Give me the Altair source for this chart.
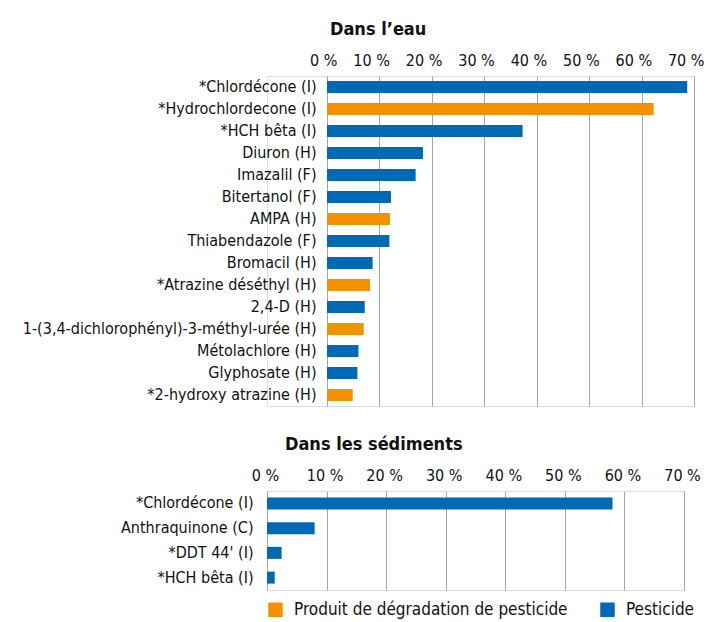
import altair as alt
import pandas as pd

FONT = "'DejaVu Sans Condensed', 'Liberation Sans Narrow', 'Roboto', sans-serif"
ORANGE = "#f39200"
BLUE = "#0069b4"
GRID = "#a6a6a6"
TXT = "#111111"

DEG = "Produit de dégradation de pesticide"
PEST = "Pesticide"

water_names = [
    "*Chlordécone (I)",
    "*Hydrochlordecone (I)",
    "*HCH bêta (I)",
    "Diuron (H)",
    "Imazalil (F)",
    "Bitertanol (F)",
    "AMPA (H)",
    "Thiabendazole (F)",
    "Bromacil (H)",
    "*Atrazine déséthyl (H)",
    "2,4-D (H)",
    "1-(3,4-dichlorophényl)-3-méthyl-urée (H)",
    "Métolachlore (H)",
    "Glyphosate (H)",
    "*2-hydroxy atrazine (H)",
]
water_values = [68.7, 62.3, 37.3, 18.3, 16.9, 12.2, 12.0, 11.9, 8.7, 8.2, 7.2, 7.0, 6.0, 5.8, 4.9]
water_types = [PEST, DEG, PEST, PEST, PEST, PEST, DEG, PEST, PEST, DEG, PEST, DEG, PEST, PEST, DEG]

sed_names = ["*Chlordécone (I)", "Anthraquinone (C)", "*DDT 44' (I)", "*HCH bêta (I)"]
sed_values = [58.0, 8.0, 2.45, 1.3]
sed_types = [PEST, PEST, PEST, PEST]

tick_values = [0, 10, 20, 30, 40, 50, 60, 70]

df_w = pd.DataFrame({"name": water_names, "value": water_values, "type": water_types})
df_s = pd.DataFrame({"name": sed_names, "value": sed_values, "type": sed_types})

color_scale = alt.Scale(domain=[DEG, PEST], range=[ORANGE, BLUE])

SHIFT = 60          # top panel plot starts this far right of the shared origin
TOP_W = 367
BOT_W = 417


def x_axis(**kw):
    return alt.Axis(
        orient="top", values=tick_values, labelExpr="datum.value + ' %'",
        domain=False, ticks=False, grid=True, gridColor=GRID, gridOpacity=1,
        title=None, labelFontSize=16, labelPadding=8, labelColor=TXT,
        labelFont=FONT, labelOverlap=False, labelFlush=False, **kw,
    )


def title(text, dx):
    return alt.TitleParams(text, anchor="start", frame="group", dx=dx,
                           fontSize=18, fontWeight="bold", font=FONT, offset=13,
                           color=TXT)


top = alt.Chart(df_w).mark_bar(size=12).encode(
    x=alt.X("value:Q",
            scale=alt.Scale(domain=[0, 70], nice=False, range=[SHIFT, SHIFT + TOP_W]),
            axis=x_axis(labelAlign="right", labelOffset=10)),
    y=alt.Y("name:N", sort=water_names,
            axis=alt.Axis(title=None, domain=False, ticks=False, labelFontSize=16,
                          labelPadding=11, labelLimit=400, labelColor=TXT,
                          labelFont=FONT, offset=-SHIFT)),
    color=alt.Color("type:N", scale=color_scale, legend=None),
).properties(width=SHIFT + TOP_W, height=330, title=title("Dans l’eau", SHIFT + 3))

bottom = alt.Chart(df_s).mark_bar(size=12).encode(
    x=alt.X("value:Q", scale=alt.Scale(domain=[0, 70], nice=False),
            axis=x_axis(labelOffset=-2)),
    y=alt.Y("name:N", sort=sed_names,
            axis=alt.Axis(title=None, domain=False, ticks=False, labelFontSize=16,
                          labelPadding=14, labelLimit=400, labelColor=TXT,
                          labelFont=FONT, minExtent=258)),
    color=alt.Color(
        "type:N", scale=color_scale,
        legend=alt.Legend(
            title=None, orient="none", legendX=0, legendY=110, direction="horizontal",
            symbolType="square", symbolSize=210, symbolStrokeWidth=0,
            labelFontSize=17, labelFont=FONT, labelColor=TXT, labelLimit=400,
            columnPadding=31, labelOffset=10,
        ),
    ),
).properties(width=BOT_W, height=99, title=title("Dans les sédiments", 18))

chart = alt.vconcat(top, bottom, spacing=28).resolve_scale(
    color="independent"
).properties(
    padding={"left": 0, "top": 12, "right": 0, "bottom": 0}
).configure_view(stroke=None).configure(font=FONT)

chart.save("out.html", embed_options={"renderer": "svg", "actions": False})
